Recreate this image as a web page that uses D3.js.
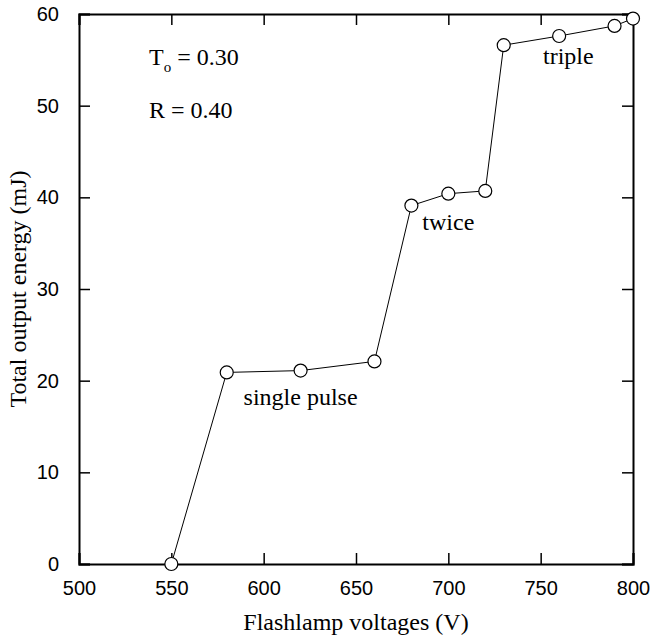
<!DOCTYPE html>
<html>
<head>
<meta charset="utf-8">
<script src="https://cdn.jsdelivr.net/npm/d3@7"></script>
<style>
    body { margin: 0; background: #fff; }
    svg { display: block; }
</style>
</head>
<body>
<svg id="chart"></svg>
<script>
// data
const voltages = [550, 580, 620, 660, 680, 700, 720, 730, 760, 790, 800];
const energies = [0, 20.9, 21.1, 22.1, 39.1, 40.4, 40.7, 56.6, 57.6, 58.7, 59.5];
const xTicks = [500, 550, 600, 650, 700, 750, 800];
const yTicks = [0, 10, 20, 30, 40, 50, 60];
const notes = [
    {text: "single pulse", x: 620, y: 17.3},
    {text: "twice", x: 700, y: 36.4},
    {text: "triple", x: 765, y: 54.6}
];

const width = 650, height = 643;
const margin = {top: 14, right: 17, bottom: 79, left: 79};
const w = width - margin.left - margin.right;
const h = height - margin.top - margin.bottom;
const serif = "'Liberation Serif', 'Times New Roman', serif";
const sans = "'Liberation Sans', Arial, sans-serif";
const fs = 24;

const svg = d3.select("#chart").attr("width", width).attr("height", height);
const g = svg.append("g").attr("transform", `translate(${margin.left},${margin.top})`);

const x = d3.scaleLinear().domain([500, 800]).range([0, w]);
const y = d3.scaleLinear().domain([0, 60]).range([h, 0]);

// axes with inward ticks on all four sides
const tick = 11;
const axB = g.append("g").attr("transform", `translate(0,${h})`)
    .call(d3.axisBottom(x).tickValues(xTicks).tickSize(-tick).tickPadding(tick + 6));
const axT = g.append("g")
    .call(d3.axisTop(x).tickValues(xTicks).tickSize(-tick).tickFormat(""));
const axL = g.append("g")
    .call(d3.axisLeft(y).tickValues(yTicks).tickSize(-tick).tickPadding(tick + 9));
const axR = g.append("g").attr("transform", `translate(${w},0)`)
    .call(d3.axisRight(y).tickValues(yTicks).tickSize(-tick).tickFormat(""));

[axB, axT, axL, axR].forEach(a => {
    a.select(".domain").attr("stroke", "#000").attr("stroke-width", 2);
    a.selectAll(".tick line").attr("stroke", "#000").attr("stroke-width", 1.5);
    a.selectAll("text").attr("font-family", sans).attr("font-size", 20).attr("fill", "#000");
});

// line + open circles
const line = d3.line().x((d, i) => x(voltages[i])).y(d => y(d));
g.append("path")
    .datum(energies)
    .attr("d", line)
    .attr("fill", "none")
    .attr("stroke", "#000")
    .attr("stroke-width", 1);

g.selectAll("circle")
    .data(energies)
    .join("circle")
    .attr("cx", (d, i) => x(voltages[i]))
    .attr("cy", d => y(d))
    .attr("r", 6.5)
    .attr("fill", "#fff")
    .attr("stroke", "#000")
    .attr("stroke-width", 1.2);

// annotations
g.selectAll(".note")
    .data(notes)
    .join("text")
    .attr("class", "note")
    .attr("x", d => x(d.x))
    .attr("y", d => y(d.y))
    .attr("text-anchor", "middle")
    .attr("font-family", serif)
    .attr("font-size", fs)
    .text(d => d.text);

const t0 = g.append("text")
    .attr("x", 70).attr("y", 51)
    .attr("font-family", serif).attr("font-size", fs);
t0.append("tspan").text("T");
t0.append("tspan").attr("font-size", 15).attr("dy", 7).text("o");
t0.append("tspan").attr("dy", -7).text(" = 0.30");

g.append("text")
    .attr("x", 70).attr("y", 104)
    .attr("font-family", serif).attr("font-size", fs)
    .text("R = 0.40");

// axis titles
svg.append("text")
    .attr("x", margin.left + w / 2)
    .attr("y", 630)
    .attr("text-anchor", "middle")
    .attr("font-family", serif).attr("font-size", fs)
    .text("Flashlamp voltages (V)");

svg.append("text")
    .attr("transform", `translate(26,${margin.top + h / 2}) rotate(-90)`)
    .attr("text-anchor", "middle")
    .attr("font-family", serif).attr("font-size", fs)
    .text("Total output energy (mJ)");
</script>
</body>
</html>
